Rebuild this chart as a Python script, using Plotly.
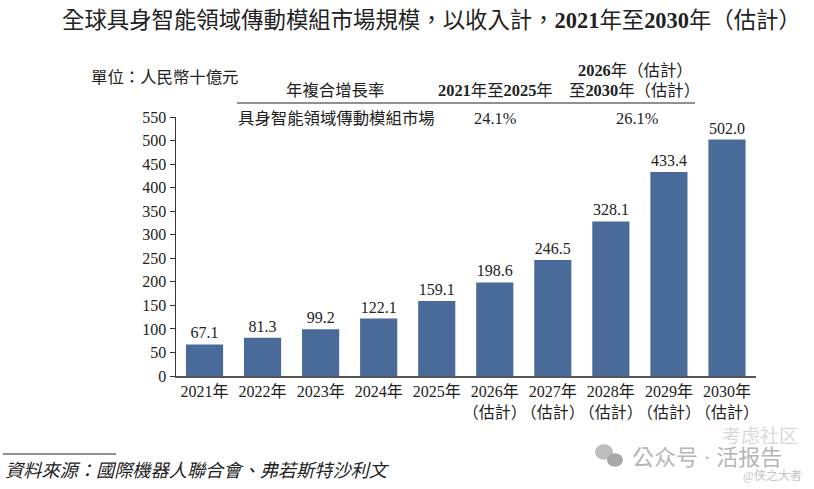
import plotly.graph_objects as go

years = ['2021年', '2022年', '2023年', '2024年', '2025年',
         '2026年<br>（估計）', '2027年<br>（估計）', '2028年<br>（估計）',
         '2029年<br>（估計）', '2030年<br>（估計）']
revenue = [67.1, 81.3, 99.2, 122.1, 159.1, 198.6, 246.5, 328.1, 433.4, 502.0]
y_ticks = list(range(0, 551, 50))

title = '全球具身智能領域傳動模組市場規模，以收入計，<b>2021</b>年至<b>2030</b>年（估計）'
unit = '單位：人民幣十億元'
source = '資料來源：國際機器人聯合會、弗若斯特沙利文'

W, H = 814, 489
SERIF = 'Liberation Serif, Noto Sans CJK TC, serif'
BLUE = '#4a6a9a'
INK = '#222222'


def px_x(x):
    return x / W


def px_y(y):
    return 1 - y / H


def note(fig, x, y, text, size=16.4, anchor='center', color=INK, italic=False):
    # x, y are pixels of the window, y measured from the top
    if italic:
        text = '<i>' + text + '</i>'
    fig.add_annotation(x=px_x(x), y=px_y(y), xref='paper', yref='paper', text=text,
                       showarrow=False, xanchor=anchor, yanchor='middle',
                       font=dict(family=SERIF, size=size, color=color))


def rule(fig, x0, x1, y, width=1, color='#222222'):
    fig.add_shape(type='line', xref='paper', yref='paper', x0=px_x(x0), x1=px_x(x1),
                  y0=px_y(y), y1=px_y(y), line=dict(color=color, width=width))


def bubble(fig, cx, cy, r, color='#bdbdbd'):
    fig.add_shape(type='circle', xref='paper', yref='paper', x0=px_x(cx - r), x1=px_x(cx + r),
                  y0=px_y(cy + r * 0.85), y1=px_y(cy - r * 0.85), fillcolor=color, line=dict(width=0))


fig = go.Figure(go.Bar(x=years, y=revenue, width=0.64, marker=dict(color=BLUE, line=dict(width=0)),
                       text=[f'{v:.1f}' for v in revenue], textposition='outside', cliponaxis=False,
                       textfont=dict(family=SERIF, size=16, color=INK)))

fig.update_layout(width=W, height=H, margin=dict(l=0, r=0, t=0, b=0), showlegend=False,
                  paper_bgcolor='white', plot_bgcolor='white',
                  font=dict(family=SERIF, size=16, color=INK))
fig.update_xaxes(domain=[px_x(175.5), px_x(756)], type='category', showgrid=False, ticks='',
                 tickangle=0, automargin=False, showline=True, linecolor='#555555', linewidth=1.5,
                 tickfont=dict(size=16))
fig.update_yaxes(domain=[px_y(376), px_y(117)], range=[0, 550], tickvals=y_ticks, showgrid=False,
                 automargin=False, zeroline=False, showline=True, linecolor='#333333', linewidth=1,
                 ticks='outside', ticklen=5, tickcolor='#333333', tickfont=dict(size=16))

note(fig, 432, 21, title, size=22.4)
note(fig, 89, 77, unit, anchor='left')
note(fig, 335, 90, '年複合增長率')
note(fig, 495, 90, '<b>2021</b>年至<b>2025</b>年')
note(fig, 635, 71, '<b>2026</b>年（估計）')
note(fig, 634, 90, '至<b>2030</b>年（估計）')
rule(fig, 237, 695, 103)
note(fig, 236, 119, '具身智能領域傳動模組市場', anchor='left')
note(fig, 495, 119, '24.1%')
note(fig, 637, 119, '26.1%')

rule(fig, 3, 116, 454)
note(fig, 3, 471, source, anchor='left', size=18.2, italic=True)

# watermark in the lower right corner
bubble(fig, 604, 452, 9)
bubble(fig, 615, 460, 8, '#a8a8a8')
note(fig, 707, 457, '公众号 · 活报告', size=22, color='#b5b5b5')
note(fig, 760, 436, '考虑社区', size=19, color='#d9d9d9')
note(fig, 772, 476, '@侠之大者', size=12, color='#c4c4c4')

# drop the page's default margin so the figure fills the window
fig.write_html('out.html', config={'displayModeBar': False},
               post_script="document.body.style.margin = '0';")
